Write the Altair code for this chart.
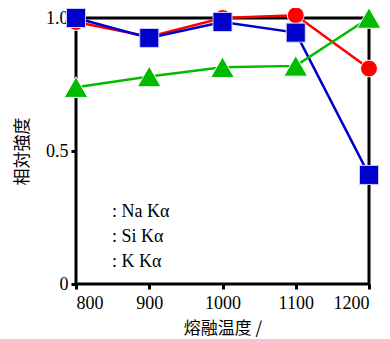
import altair as alt
import pandas as pd

temps = [800, 900, 1000, 1100, 1200]
na = [0.985, 0.93, 1.00, 1.01, 0.81]
si = [1.00, 0.925, 0.985, 0.945, 0.41]
k = [0.74, 0.78, 0.815, 0.82, 1.00]
series_names = ["Na Kα", "Si Kα", "K Kα"]
legend_labels = [": Na Kα", ": Si Kα", ": K Kα"]

df = pd.concat([
    pd.DataFrame({"t": temps, "v": na, "s": "Na Kα"}),
    pd.DataFrame({"t": temps, "v": si, "s": "Si Kα"}),
    pd.DataFrame({"t": temps, "v": k, "s": "K Kα"}),
])

xs = alt.Scale(domain=[800, 1200], nice=False)
ys = alt.Scale(domain=[0, 1], nice=False)

xax = alt.Axis(values=temps, title="熔融温度 /", grid=False, domain=False, format="d",
               tickColor="black", tickWidth=3, tickSize=5,
               labelFont="Liberation Serif", labelFontSize=18, labelColor="black",
               labelPadding=5, titleFont="Noto Sans CJK JP", titleFontSize=17,
               titleFontWeight="normal", titleColor="black", titlePadding=8)
yax = alt.Axis(values=[0, 0.5, 1.0], title="相対強度", grid=False, domain=False,
               tickColor="black", tickWidth=3, tickSize=5,
               labelExpr="datum.value == 0 ? '0' : format(datum.value, '.1f')",
               labelFont="Liberation Serif", labelFontSize=18, labelColor="black",
               labelPadding=3, titleFont="Noto Sans CJK JP", titleFontSize=17,
               titleFontWeight="normal", titleColor="black", titlePadding=14)

styles = {
    "Na Kα": ("#ff0000", "circle", 285),
    "Si Kα": ("#0000cc", "square", 361),
    "K Kα": ("#00bb00", "triangle-up", 560),
}

X = alt.X("t:Q", scale=xs, axis=xax)
Y = alt.Y("v:Q", scale=ys, axis=yax)

layers = []
for name in series_names:
    color, shape, size = styles[name]
    base = alt.Chart(df[df.s == name])
    line = base.mark_line(color=color, strokeWidth=2.5).encode(x=X, y=Y)
    pts = base.mark_point(shape=shape, filled=True, color=color, size=size,
                          opacity=1, stroke="#ccccff" if shape == "square" else "white",
                          strokeWidth=1).encode(x=X, y=Y)
    layers += [line, pts]

for i, lab in enumerate(legend_labels):
    t = alt.Chart(pd.DataFrame({"lab": [lab]})).mark_text(
        align="left", baseline="middle", font="Liberation Serif", fontSize=18, color="black"
    ).encode(x=alt.value(36), y=alt.value(194 + 25 * i), text="lab:N")
    layers.append(t)

chart = alt.layer(*layers).properties(
    width=293, height=266,
    autosize=alt.AutoSizeParams(type="none"),
    padding={"left": 68, "top": 10, "right": 13, "bottom": 60},
).configure_view(stroke="black", strokeWidth=3)

chart.save("out.html", embed_options={"renderer": "svg", "actions": False})
